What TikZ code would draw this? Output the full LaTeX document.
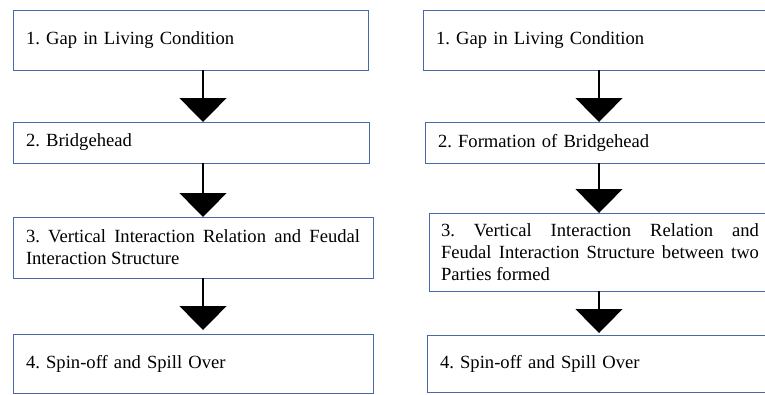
\documentclass[tikz,border=0pt]{standalone}
\usepackage{fontspec}
\setmainfont{Liberation Serif}
\usetikzlibrary{arrows.meta}
\definecolor{boxblue}{RGB}{72,104,168}
\hyphenpenalty=10000
\frenchspacing
\tikzset{
  stepbox/.style={draw=boxblue, line width=0.9pt, fill=white, anchor=north west,
    inner xsep=13pt, inner ysep=0pt, outer sep=0pt, align=left,
    font=\fontsize{18.6}{22}\selectfont},
  flow/.style={line width=1.2pt, draw=black,
    -{Triangle[width=47pt,length=24pt]}}
}
\begin{document}
\frenchspacing
\begin{tikzpicture}[x=1pt,y=-1pt]
\useasboundingbox (0,0) rectangle (765,394);
\clip (0,0) rectangle (765,394);
\coordinate (axL) at (203,0);
\coordinate (axR) at (599,0);
% left column
\node[stepbox, text width=329pt, minimum height=60pt] (l1) at (13,10) {1. Gap in Living Condition};
\node[stepbox, text width=330pt, minimum height=41pt] (l2) at (13,122) {2. Bridgehead};
\node[stepbox, text width=334pt, minimum height=61pt, align=justify] (l3) at (13,217) {3. Vertical Interaction Relation and Feudal\linebreak Interaction Structure};
\node[stepbox, text width=334pt, minimum height=59pt] (l4) at (13,334) {4. Spin-off and Spill Over};
% right column
\node[stepbox, text width=334pt, minimum height=60pt] (r1) at (423,10) {1. Gap in Living Condition};
\node[stepbox, text width=334pt, minimum height=41pt] (r2) at (425,122) {2. Formation of Bridgehead};
\node[stepbox, inner xsep=12pt, text width=318pt, minimum height=78pt, align=justify] (r3) at (429,213) {3. Vertical Interaction Relation and\linebreak Feudal Interaction Structure between two Parties formed};
\node[stepbox, text width=334pt, minimum height=57pt] (r4) at (427,335) {4. Spin-off and Spill Over};
% connectors
\draw[flow] (l1.south -| axL) -- (l2.north -| axL);
\draw[flow] (l2.south -| axL) -- (l3.north -| axL);
\draw[flow, shorten >=4pt] (l3.south -| axL) -- (l4.north -| axL);
\draw[flow] (r1.south -| axR) -- (r2.north -| axR);
\draw[flow] (r2.south -| axR) -- (r3.north -| axR);
\draw[flow, shorten >=2pt] (r3.south -| axR) -- (r4.north -| axR);
\end{tikzpicture}
\end{document}
